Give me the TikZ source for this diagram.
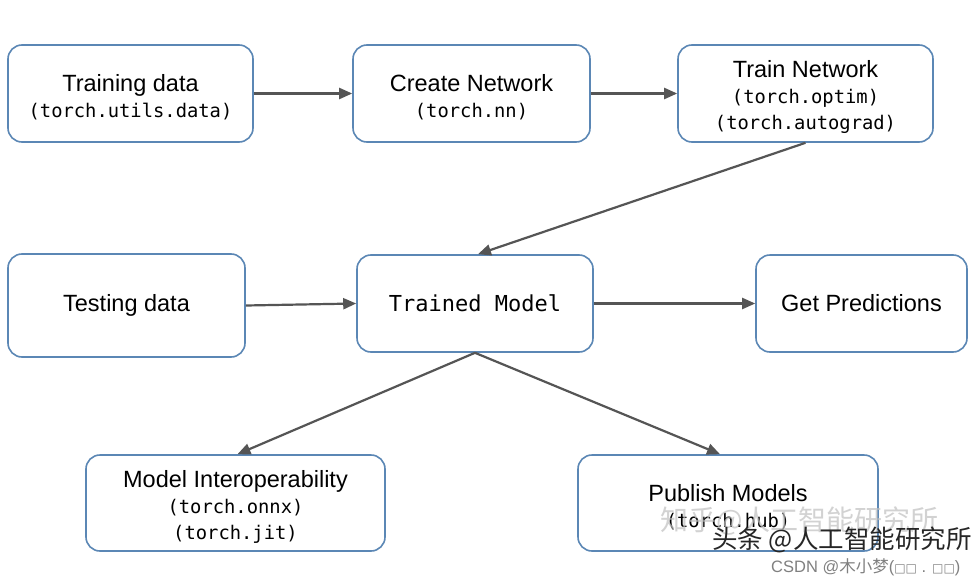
\documentclass[tikz,border=0pt]{standalone}
\usepackage{fontspec}
\setmainfont{Liberation Sans}
\newfontfamily\monof{DejaVu Sans Mono}
\newfontfamily\cjkf{Noto Sans CJK SC}
\newfontfamily\dejavu{DejaVu Sans}
\usetikzlibrary{arrows.meta}
\definecolor{boxc}{HTML}{5B87B5}
\definecolor{arrc}{HTML}{555555}
\tikzset{
  box/.style={draw=boxc, line width=1.6pt, rounded corners=14pt, fill=white, align=center, inner sep=0pt,
    font=\fontsize{23.5}{26}\selectfont},
  conn/.style={draw=arrc, line width=2.2pt, -{Triangle[length=13pt,width=11pt]}},
}
\newcommand{\mt}[1]{{\monof\fontsize{18.8}{26}\selectfont #1}}
\newcommand{\lo}{\rule{0pt}{25pt}}
\begin{document}
\begin{tikzpicture}[x=1pt,y=-1pt]
\useasboundingbox[fill=white] (0,0) rectangle (974,586);
\node[box, minimum width=245pt, minimum height=97pt] (td) at (130.5,93.5) {\lo Training data\\\mt{(torch.utils.data)}};
\node[box, minimum width=237pt, minimum height=97pt] (cn) at (471.5,93.5) {\lo Create Network\\\mt{(torch.nn)}};
\node[box, minimum width=255pt, minimum height=97pt] (tn) at (805.5,93.5) {\lo Train Network\\\mt{(torch.optim)}\\\mt{(torch.autograd)}};
\node[box, minimum width=237pt, minimum height=103pt] (te) at (126.5,305.5) {Testing data};
\node[box, minimum width=236pt, minimum height=97pt] (tm) at (475,303.5) {{\monof\fontsize{22}{26}\selectfont Trained Model}};
\node[box, minimum width=211pt, minimum height=97pt] (gp) at (861.5,303.5) {Get Predictions};
\node[box, minimum width=299pt, minimum height=96pt] (mi) at (235.5,503) {\lo Model Interoperability\\\mt{(torch.onnx)}\\\mt{(torch.jit)}};
\node[box, minimum width=300pt, minimum height=96pt] (pm) at (728,503) {\lo Publish Models\\\mt{(torch.hub)}};
\draw[conn] (td.east) -- (cn.west);
\draw[conn] (cn.east) -- (tn.west);
\draw[conn] (tn.south) -- ([xshift=3pt]tm.north);
\draw[conn] (te.east) -- (tm.west);
\draw[conn] (tm.east) -- (gp.west);
\draw[conn] (tm.south) -- ([xshift=2pt]mi.north);
\draw[conn] (tm.south) -- ([xshift=-8pt]pm.north);
\node[text=black!25, opacity=0.7, font=\cjkf\fontsize{28}{28}\selectfont, anchor=base west, inner sep=0pt] (wm1) at (660,530) {知乎@人工智能研究所};
\node[text=black!85, font=\cjkf\fontsize{25.5}{25.5}\selectfont, anchor=base west, inner sep=0pt] (wm2) at (712,548) {头条 @人工智能研究所};
\node[text=black!50, font=\fontsize{16.5}{16.5}\selectfont, anchor=base west, inner sep=0pt] (wm3) at (771,572) {CSDN @{\cjkf 木小梦}({\dejavu\fontsize{12}{12}\selectfont □□} . {\dejavu\fontsize{12}{12}\selectfont □□})};
\end{tikzpicture}
\end{document}
